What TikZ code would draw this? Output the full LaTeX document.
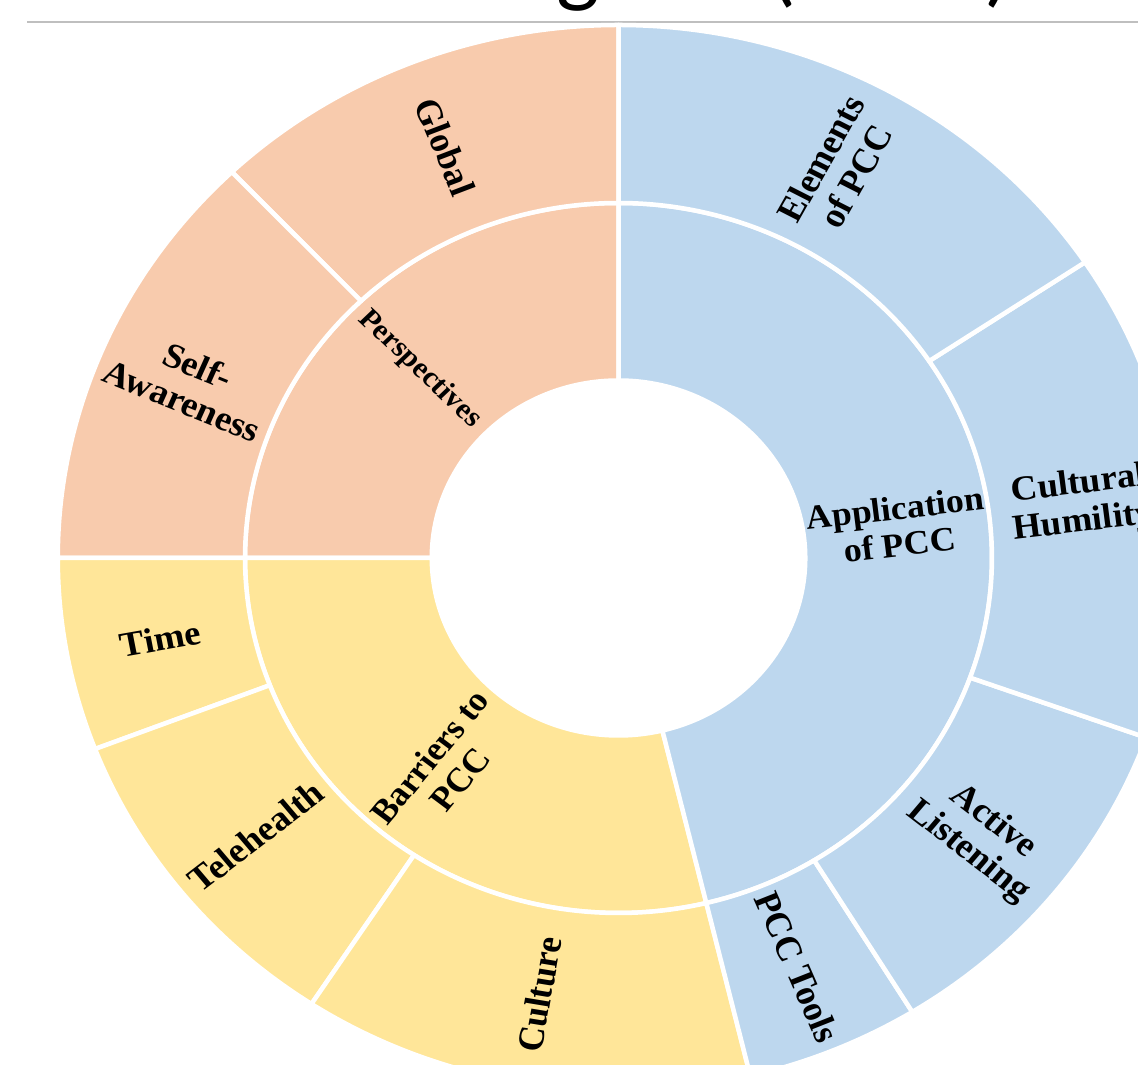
\documentclass[tikz,border=0pt]{standalone}
\usepackage{fontspec}
\setmainfont{Liberation Serif}
\newfontfamily\titlefont{Carlito}
\definecolor{peach}{HTML}{F8CBAD}
\definecolor{gold}{HTML}{FFE699}
\definecolor{sky}{HTML}{BDD7EE}
\newcommand\mysector[5]{\filldraw[fill=#1, sep] (#2:#4) arc[start angle=#2, end angle=#3, radius=#4] -- (#3:#5) arc[start angle=#3, end angle=#2, radius=#5] -- cycle;}
\begin{document}
\begin{tikzpicture}[x=1pt,y=1pt,
  sep/.style={draw=white, line width=4.5pt, line join=round},
  lab/.style={font=\fontsize{35}{38}\selectfont\bfseries, align=center, inner sep=0pt, text=black, transform shape},
  innerlab/.style={lab, font=\fontsize{34}{37}\selectfont\bfseries},
  smalllab/.style={lab, font=\fontsize{29}{32}\selectfont\bfseries}]
\useasboundingbox (0,0) rectangle (1138,1065);
\clip (0,0) rectangle (1138,1065);
\fill[white] (0,0) rectangle (1138,1065);
\node[font=\titlefont\fontsize{92}{92}\selectfont, anchor=base east, inner sep=0pt] (title) at (1013,1069) {Diagram (cont.)};
\coordinate (rl) at (27,1043);
\coordinate (rr) at (1138,1043);
\draw[draw=black!25, line width=1.5pt] (rl) -- (rr);
\begin{scope}[shift={(618.5,507)}, xscale=1.052]
  % inner ring
  \mysector{peach}{90}{180}{177.5}{355}
  \mysector{gold}{180}{283.6}{177.5}{355}
  \mysector{sky}{-76.4}{90}{177.5}{355}
  % outer ring
  \mysector{peach}{90}{133.6}{355}{533}
  \mysector{peach}{133.6}{180}{355}{533}
  \mysector{gold}{180}{201}{355}{533}
  \mysector{gold}{201}{236.8}{355}{533}
  \mysector{gold}{236.8}{283.6}{355}{533}
  \mysector{sky}{-76.4}{-58.4}{355}{533}
  \mysector{sky}{-58.4}{-19.7}{355}{533}
  \mysector{sky}{-19.7}{33.7}{355}{533}
  \mysector{sky}{33.7}{90}{355}{533}
  % inner labels
  \node[smalllab, rotate=-45] (persp) at (135:267) {Perspectives};
  \node[innerlab, rotate=51.8] (barr) at (231.8:267) {Barriers to\\PCC};
  \node[innerlab, rotate=6.8] (appl) at (6.8:267) {Application\\of PCC};
  % outer labels
  \node[lab, rotate=-68.2] (glob) at (111.8:443) {Global};
  \node[lab, rotate=-23.2] (selfaw) at (156.8:443) {Self-\\Awareness};
  \node[lab, rotate=10.5] (time) at (190.5:443) {Time};
  \node[lab, rotate=38.9] (tele) at (218.9:443) {Telehealth};
  \node[lab, rotate=80.2] (cult) at (260.2:443) {Culture};
  \node[lab, rotate=-67.4] (tools) at (-67.4:443) {PCC Tools};
  \node[lab, rotate=-39.05] (activ) at (-39.05:443) {Active\\Listening};
  \node[lab, rotate=7] (humil) at (7:443) {Cultural\\Humility};
  \node[lab, rotate=61.85] (elem) at (61.85:443) {Elements\\of PCC};
\end{scope}
\end{tikzpicture}
\end{document}
